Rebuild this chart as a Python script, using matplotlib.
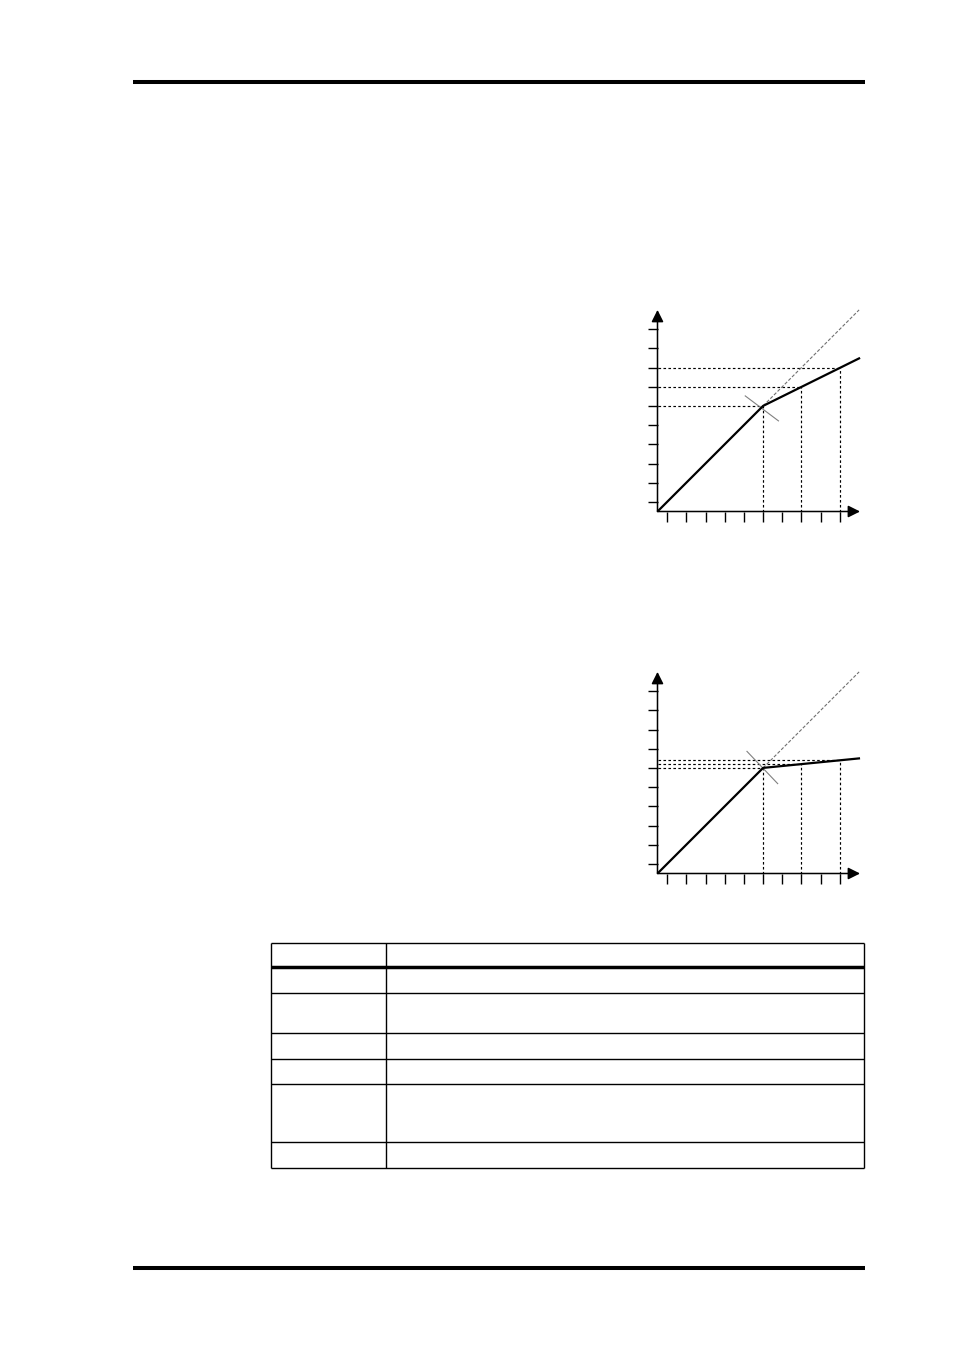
import matplotlib
matplotlib.use("Agg")
import matplotlib.pyplot as plt

W, H = 954, 1351
DPI = 100

# ---------------- data ----------------
tick_pos = [0.5, 1.5, 2.5, 3.5, 4.5, 5.5, 6.5, 7.5, 8.5, 9.5]
threshold = 5.5
curve_x = [0.0, 5.5, 10.55]
curve1_y = [0.0, 5.5, 8.0]      # ratio 2:1
curve2_y = [0.0, 5.5, 6.0]      # ratio 10:1
unity_x = [5.5, 10.5]
unity_y = [5.5, 10.5]
guide_in = [5.5, 7.5, 9.5]
guide1_out = [5.5, 6.5, 7.5]
guide2_out = [5.5, 5.7, 5.9]
knee1_x = [4.57, 6.30]
knee1_y = [6.02, 4.72]
knee2_x = [4.66, 6.26]
knee2_y = [6.36, 4.68]

# table grid (page pixels)
table_cols = [271.3, 385.7, 863.7]
table_rows = [942.7, 967.0, 992.7, 1033.3, 1059.0, 1084.3, 1142.0, 1168.3]
thick_row = 967.0

fig = plt.figure(figsize=(W / DPI, H / DPI), dpi=DPI)
fig.patch.set_facecolor("white")

# ---------------- page layer ----------------
page = fig.add_axes([0, 0, 1, 1])
page.set_xlim(0, W)
page.set_ylim(H, 0)
page.axis("off")
page.hlines([82.0], 133, 865, color="black", lw=2.9)
page.hlines([1267.7], 133, 865, color="black", lw=2.9)

# table
for r in table_rows:
    lw = 2.5 if r == thick_row else 1.0
    page.hlines(r, table_cols[0], table_cols[-1], color="black", lw=lw)
for c in table_cols:
    page.vlines(c, table_rows[0], table_rows[-1], color="black", lw=1.0)

# ---------------- charts ----------------
UNIT = 19.2
XMAX = 10.6
YMAX = 10.6


def make_chart(ox, oy, out_y, gx, gy, kx, ky):
    ax = fig.add_axes([ox / W, (H - oy) / H, XMAX * UNIT / W, YMAX * UNIT / H])
    ax.set_xlim(0, XMAX)
    ax.set_ylim(0, YMAX)
    ax.patch.set_alpha(0)
    for s in ax.spines.values():
        s.set_visible(False)
    ax.set_xticks(tick_pos)
    ax.set_yticks(tick_pos)
    ax.set_xticklabels([])
    ax.set_yticklabels([])
    ax.tick_params(direction="out", length=7.0, width=1.0, color="black",
                   top=False, right=False)

    arrow = dict(arrowstyle="-|>,head_length=0.72,head_width=0.36",
                 color="black", lw=1.1, shrinkA=0, shrinkB=0)
    ax.annotate("", xy=(0, 10.5), xytext=(0, 0), xycoords="data",
                arrowprops=arrow, annotation_clip=False)
    ax.annotate("", xy=(10.55, 0), xytext=(0, 0), xycoords="data",
                arrowprops=arrow, annotation_clip=False)

    dash = (0, (2.2, 2.0))
    for xi, yi in zip(guide_in, out_y):
        ax.plot([0, xi], [yi, yi], color="black", lw=0.85, linestyle=dash,
                clip_on=False)
        ax.plot([xi, xi], [0, yi], color="black", lw=0.85, linestyle=dash,
                clip_on=False)

    ax.plot(unity_x, unity_y, color="#707070", lw=0.8,
            linestyle=(0, (3.0, 1.6)), clip_on=False)
    ax.plot(kx, ky, color="#808080", lw=0.8, clip_on=False)
    ax.plot(gx, gy, color="black", lw=1.6, solid_capstyle="butt",
            clip_on=False, zorder=5)
    return ax


make_chart(657.5, 511.5, guide1_out, curve_x, curve1_y, knee1_x, knee1_y)
make_chart(657.5, 873.5, guide2_out, curve_x, curve2_y, knee2_x, knee2_y)

fig.savefig("out.png", dpi=DPI, facecolor="white")
